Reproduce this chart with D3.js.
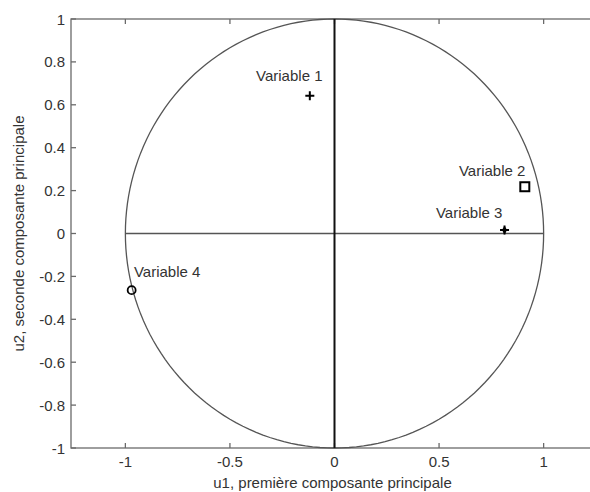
<!DOCTYPE html>
<html>
<head>
<meta charset="utf-8">
<script src="https://cdn.jsdelivr.net/npm/d3@7"></script>
<style>
  html, body { margin: 0; padding: 0; background: #fff; }
  svg { display: block; }
  text { font-family: "Liberation Sans", Arial, sans-serif; fill: #333; }
</style>
</head>
<body>
<svg id="chart" width="590" height="492"></svg>
<script>
// Correlation circle: variables projected on the first two principal components
const variables = ["Variable 1", "Variable 2", "Variable 3", "Variable 4"];
const u1 = [-0.118, 0.910, 0.813, -0.970];
const u2 = [0.642, 0.218, 0.016, -0.264];
const markers = ["plus", "square", "star", "circle"];
// text() anchor points in data coordinates
const labelU1 = [-0.375, 0.595, 0.485, -0.959];
const labelU2 = [0.711, 0.268, 0.072, -0.204];

const xTicks = [-1, -0.5, 0, 0.5, 1];
const yTicks = [-1, -0.8, -0.6, -0.4, -0.2, 0, 0.2, 0.4, 0.6, 0.8, 1];
const xLabel = "u1, première composante principale";
const yLabel = "u2, seconde composante principale";

const svg = d3.select("#chart");
const x = d3.scaleLinear().domain([-1.26, 1.26]).range([71, 598]);
const y = d3.scaleLinear().domain([-1, 1]).range([448, 19]);

const fmt = d => (d === 0 ? "0" : String(d).replace(/^(-?)0\./, "$10."));

// axes box
const box = svg.append("g");
box.append("rect")
  .attr("x", x(-1.26)).attr("y", y(1))
  .attr("width", x(1.26) - x(-1.26)).attr("height", y(-1) - y(1))
  .attr("fill", "none").attr("stroke", "#6a6a6a").attr("stroke-width", 1.3);

// inward ticks (bottom, top, left)
const tl = 5;
xTicks.forEach(t => {
  box.append("line").attr("x1", x(t)).attr("x2", x(t))
    .attr("y1", y(-1)).attr("y2", y(-1) - tl).attr("stroke", "#6a6a6a").attr("stroke-width", 1.3);
  box.append("line").attr("x1", x(t)).attr("x2", x(t))
    .attr("y1", y(1)).attr("y2", y(1) + tl).attr("stroke", "#6a6a6a").attr("stroke-width", 1.3);
  box.append("text").attr("x", x(t)).attr("y", y(-1) + 19)
    .attr("text-anchor", "middle").attr("font-size", 15).text(fmt(t));
});
yTicks.forEach(t => {
  box.append("line").attr("x1", x(-1.26)).attr("x2", x(-1.26) + tl)
    .attr("y1", y(t)).attr("y2", y(t)).attr("stroke", "#6a6a6a").attr("stroke-width", 1.3);
  box.append("text").attr("x", x(-1.26) - 6).attr("y", y(t) + 5.5)
    .attr("text-anchor", "end").attr("font-size", 15).text(fmt(t));
});

// axis titles
svg.append("text").attr("x", (x(-1.26) + x(1.26)) / 2 - 2).attr("y", 488)
  .attr("text-anchor", "middle").attr("font-size", 15).text(xLabel);
svg.append("text")
  .attr("transform", `translate(24,${(y(1) + y(-1)) / 2}) rotate(-90)`)
  .attr("text-anchor", "middle").attr("font-size", 15).text(yLabel);

// unit circle
const angles = d3.range(0, 361, 2).map(a => a * Math.PI / 180);
svg.append("path")
  .datum(angles)
  .attr("d", d3.line().x(a => x(Math.cos(a))).y(a => y(Math.sin(a))))
  .attr("fill", "none").attr("stroke", "#555").attr("stroke-width", 1.3);

// principal axes through the origin
svg.append("line").attr("x1", x(-1)).attr("x2", x(1)).attr("y1", y(0)).attr("y2", y(0))
  .attr("stroke", "#555").attr("stroke-width", 1.3);
svg.append("line").attr("x1", x(0)).attr("x2", x(0)).attr("y1", y(-1)).attr("y2", y(1))
  .attr("stroke", "#111").attr("stroke-width", 2);

// variable markers
const pts = svg.append("g");
variables.forEach((v, i) => {
  const cx = x(u1[i]), cy = y(u2[i]);
  const m = markers[i];
  if (m === "plus" || m === "star") {
    pts.append("path").attr("d", `M${cx - 4.5},${cy}H${cx + 4.5}M${cx},${cy - 4.5}V${cy + 4.5}`)
      .attr("stroke", "#000").attr("stroke-width", 2);
    if (m === "star") {
      pts.append("path").attr("transform", `translate(${cx},${cy})`)
        .attr("d", d3.symbol(d3.symbolDiamond, 22)()).attr("fill", "#000");
    }
  } else if (m === "square") {
    pts.append("rect").attr("x", cx - 4.5).attr("y", cy - 4.5).attr("width", 9).attr("height", 9)
      .attr("fill", "none").attr("stroke", "#000").attr("stroke-width", 2);
  } else if (m === "circle") {
    pts.append("circle").attr("cx", cx).attr("cy", cy).attr("r", 4)
      .attr("fill", "none").attr("stroke", "#000").attr("stroke-width", 1.8);
  }
  pts.append("text").attr("x", x(labelU1[i])).attr("y", y(labelU2[i]))
    .attr("font-size", 15).text(v);
});
</script>
</body>
</html>
